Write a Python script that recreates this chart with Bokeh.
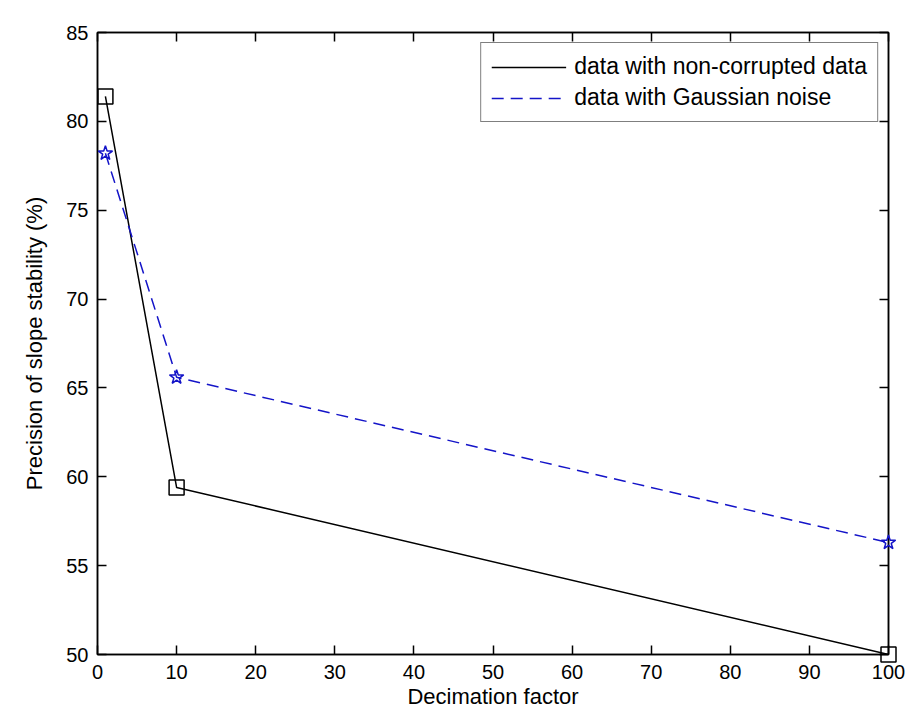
from bokeh.plotting import figure
from bokeh.models import LinearAxis, FixedTicker, Legend, LegendItem, Range1d
from bokeh.embed import file_html
from bokeh.resources import INLINE

# Data
decimation = [1, 10, 100]
clean_precision = [81.4, 59.4, 50.0]
noisy_precision = [78.2, 65.6, 56.3]
x_ticks = [0, 10, 20, 30, 40, 50, 60, 70, 80, 90, 100]
y_ticks = [50, 55, 60, 65, 70, 75, 80, 85]
clean_label = "data with non-corrupted data"
noisy_label = "data with Gaussian noise"

FONT = "Liberation Sans"
BLUE = "#1414c8"

p = figure(width=910, height=714, output_backend="svg", toolbar_location=None,
           x_range=Range1d(0, 100), y_range=Range1d(50, 85),
           min_border_left=97, min_border_top=32, min_border_right=22, min_border_bottom=60)
p.xgrid.visible = False
p.ygrid.visible = False
p.outline_line_color = "black"
p.outline_line_width = 1.5
p.background_fill_color = "white"
p.border_fill_color = "white"

r1 = p.line(decimation, clean_precision, line_color="black", line_width=1.5)
p.scatter(decimation, clean_precision, marker="square", size=15, fill_color=None,
          line_color="black", line_width=1.5, level="overlay")
r2 = p.line(decimation, noisy_precision, line_color=BLUE, line_width=1.5, line_dash="12 7")
p.scatter(decimation, noisy_precision, marker="star", size=15, fill_color=None,
          line_color=BLUE, line_width=1.5, level="overlay")

def style_axis(ax, show_labels, ticks):
    ax.axis_line_color = "black"
    ax.axis_line_width = 1.5
    ax.major_tick_in = 9
    ax.major_tick_out = 0
    ax.minor_tick_line_color = None
    ax.major_tick_line_color = "black"
    ax.major_tick_line_width = 1.5
    ax.major_label_text_font = FONT
    ax.major_label_text_color = "black"
    ax.major_label_text_font_size = "20px"
    if not show_labels:
        ax.major_label_overrides = {t: "" for t in ticks}
        ax.major_label_standoff = 0

p.xaxis.ticker = FixedTicker(ticks=x_ticks)
p.yaxis.ticker = FixedTicker(ticks=y_ticks)
style_axis(p.xaxis[0], True, x_ticks)
style_axis(p.yaxis[0], True, y_ticks)
p.xaxis.major_label_standoff = 10
p.yaxis.major_label_standoff = 9
p.xaxis.axis_label = "Decimation factor"
p.yaxis.axis_label = "Precision of slope stability (%)"
for ax in (p.xaxis[0], p.yaxis[0]):
    ax.axis_label_text_font = FONT
    ax.axis_label_text_font_size = "22px"
    ax.axis_label_text_font_style = "normal"
    ax.axis_label_text_color = "black"
p.xaxis.axis_label_standoff = 2
p.yaxis.axis_label_standoff = 16

top_ax = LinearAxis(ticker=FixedTicker(ticks=x_ticks))
style_axis(top_ax, False, x_ticks)
p.add_layout(top_ax, "above")
right_ax = LinearAxis(ticker=FixedTicker(ticks=y_ticks))
style_axis(right_ax, False, y_ticks)
p.add_layout(right_ax, "right")

legend = Legend(items=[LegendItem(label=clean_label, renderers=[r1]),
                       LegendItem(label=noisy_label, renderers=[r2])],
                location="top_right")
legend.label_text_font = FONT
legend.label_text_font_size = "23px"
legend.label_text_color = "black"
legend.border_line_color = "black"
legend.border_line_width = 1.5
legend.background_fill_color = "white"
legend.background_fill_alpha = 1.0
legend.glyph_width = 75
legend.glyph_height = 26
legend.label_height = 26
legend.label_standoff = 8
legend.spacing = 4
legend.padding = 10
legend.margin = 10
p.add_layout(legend, "center")

open("out.html", "w").write(file_html(p, INLINE))
